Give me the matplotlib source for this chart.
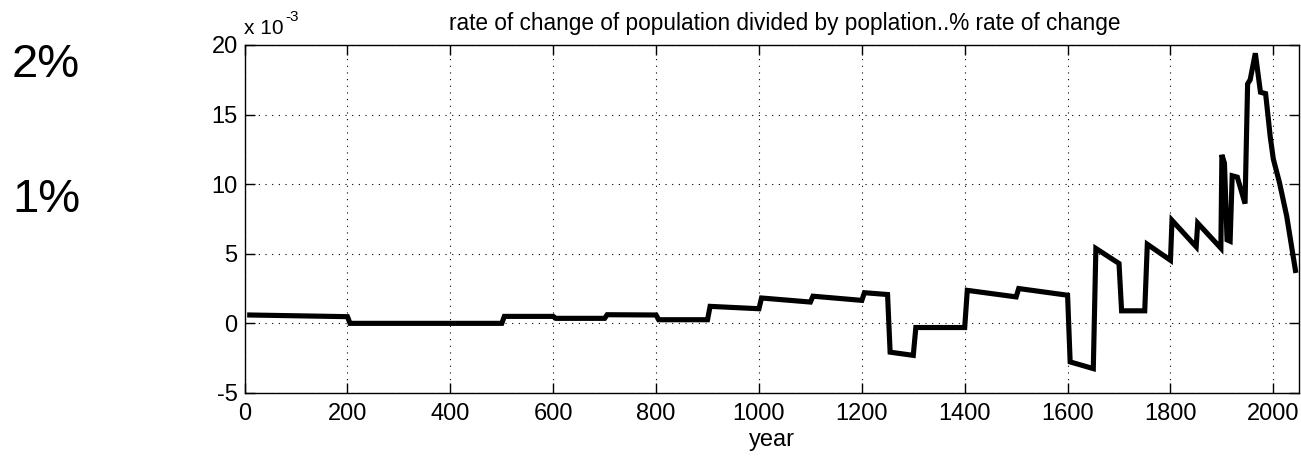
import matplotlib
matplotlib.use("Agg")
import matplotlib.pyplot as plt

# data (rate values in units of 1e-3)
years = [10, 200, 205, 500, 505, 600, 605, 700, 705, 800, 805, 900, 905, 1000,
         1005, 1100, 1105, 1200, 1205, 1250, 1255, 1300, 1305, 1400, 1405, 1500,
         1505, 1600, 1605, 1650, 1655, 1700, 1705, 1750, 1755, 1800, 1803, 1850,
         1853, 1898, 1900, 1905, 1910, 1916, 1920, 1930, 1945, 1950, 1955, 1965,
         1975, 1985, 1994, 2000, 2012, 2026, 2043]
rate = [0.6, 0.48, 0.0, 0.0, 0.5, 0.5, 0.36, 0.36, 0.62, 0.6, 0.26, 0.26, 1.22, 1.05,
        1.82, 1.53, 1.95, 1.65, 2.2, 2.07, -2.07, -2.3, -0.3, -0.3, 2.37, 1.9,
        2.5, 2.02, -2.77, -3.25, 5.38, 4.3, 0.9, 0.9, 5.68, 4.53, 7.4, 5.5,
        7.2, 5.4, 12.1, 11.5, 6.0, 5.9, 10.6, 10.5, 8.6, 17.2, 17.5, 19.4,
        16.6, 16.5, 13.4, 11.8, 10.1, 7.7, 3.8]
xticks = [0, 200, 400, 600, 800, 1000, 1200, 1400, 1600, 1800, 2000]
yticks = [-5, 0, 5, 10, 15, 20]

plt.rcParams['font.family'] = ['Liberation Sans', 'DejaVu Sans']
plt.rcParams['axes.unicode_minus'] = False

fig = plt.figure(figsize=(13.01, 4.58), dpi=100)
ax = fig.add_axes([0.188, 0.142, 0.8105, 0.76])
ax.plot(years, rate, color='black', linewidth=3.7, solid_joinstyle='miter')
ax.set_xlim(0, 2050)
ax.set_ylim(-5, 20)
ax.set_xticks(xticks)
ax.set_yticks(yticks)
ax.tick_params(direction='in', length=7, width=1, top=True, right=True,
               labelsize=17)
ax.tick_params(axis='x', pad=7)
ax.tick_params(axis='y', pad=5)
ax.grid(True, color='black', linestyle=(0, (1, 5)), linewidth=0.8)
for s in ax.spines.values():
    s.set_linewidth(1)
ax.set_xlabel('year', fontsize=17, labelpad=3)
ax.set_title('rate of change of population divided by poplation..% rate of change',
             fontsize=16.3, pad=11, x=0.512)

fig.text(244 / 1301, 1 - 29 / 458, 'x 10', fontsize=15, ha='left', va='center')
fig.text(285 / 1301, 1 - 17 / 458, '-3', fontsize=11, ha='left', va='center')

fig.text(12 / 1301, 1 - 65 / 458, '2%', fontsize=34, ha='left', va='center')
fig.text(12 / 1301, 1 - 200 / 458, '1%', fontsize=34, ha='left', va='center')

fig.savefig('out.png', dpi=100)
